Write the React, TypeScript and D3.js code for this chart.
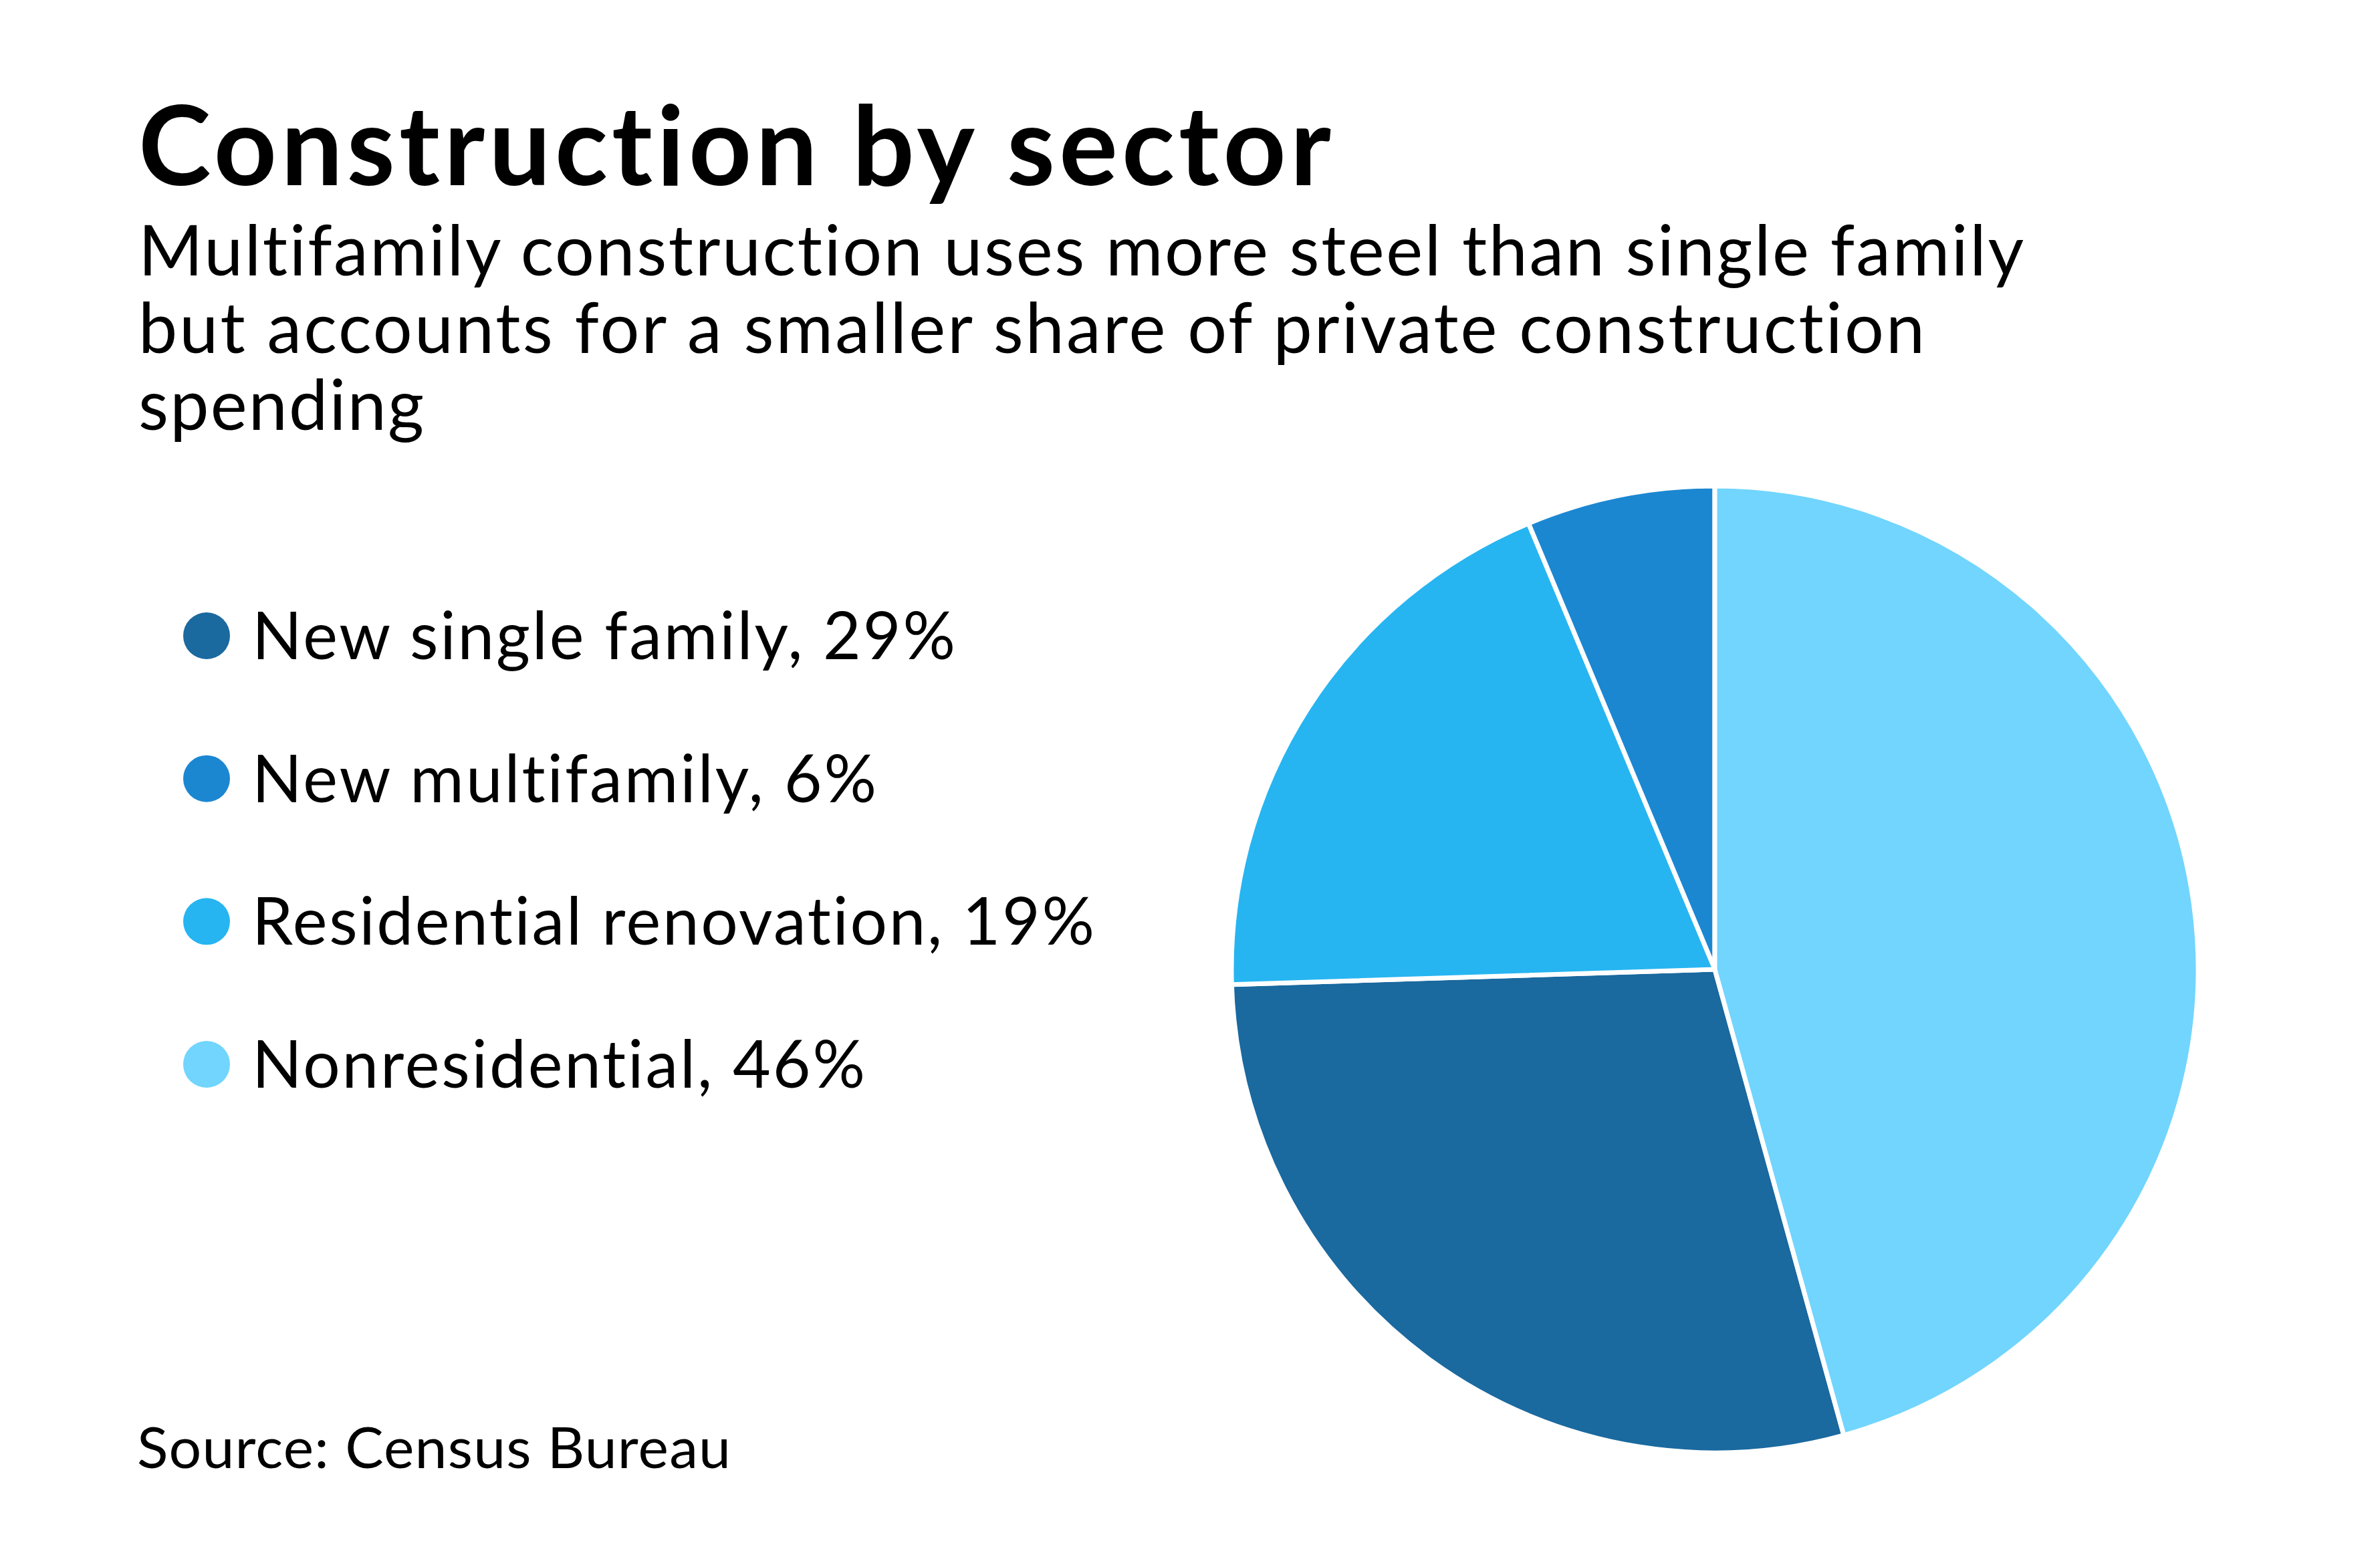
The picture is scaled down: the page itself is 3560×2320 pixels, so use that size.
import React from 'react';
import * as d3 from 'd3';

const sectors = ['New single family', 'New multifamily', 'Residential renovation', 'Nonresidential'];
const shares = [28.8, 6.3, 19.2, 45.7];
const sectorColors = ['#1a699f', '#1c87d1', '#26b5f1', '#71d5fe'];
// order the slices run clockwise from 12 o'clock
const pieOrder = ['Nonresidential', 'New single family', 'Residential renovation', 'New multifamily'];

const title = 'Construction by sector';
const subtitleLines = [
  'Multifamily construction uses more steel than single family',
  'but accounts for a smaller share of private construction',
  'spending',
];
const source = 'Source: Census Bureau';

const W = 3560;
const H = 2320;
const FONT = 'Lato, "Open Sans", sans-serif';

// measured line widths in the reference, used to match the letter spacing
const subtitleWidths = [2820, 2672, 427];
const legendWidths = [1052, 934, 1260, 917];

const App: React.FC = () => {
  const cx = 2565;
  const cy = 1450;
  const r = 723;

  const pie = d3.pie<number>()
    .sort((a, b) => pieOrder.indexOf(sectors[a]) - pieOrder.indexOf(sectors[b]))
    .value(i => shares[i]);
  const arcs = pie(d3.range(sectors.length));
  const arc = d3.arc<d3.PieArcDatum<number>>().innerRadius(0).outerRadius(r);

  const legendY = d3.scalePoint<string>()
    .domain(sectors)
    .range([951, 1592]);

  return (
    <svg width={W} height={H} style={{ position: 'absolute', left: 0, top: 0, background: '#fff', fontVariantLigatures: 'none' }}
      fontFamily={FONT}>
      <rect width={W} height={H} fill="#fff" />
      <text x={207} y={277} fontSize={164} fontWeight={700} fill="#000"
        textLength={1784} lengthAdjust="spacing">{title}</text>
      {subtitleLines.map((t, i) => (
        <text key={i} x={207} y={412 + i * 115.5} fontSize={104} fill="#000"
          textLength={subtitleWidths[i]} lengthAdjust="spacing">{t}</text>
      ))}

      <g>
        {sectors.map((s, i) => (
          <g key={s} transform={`translate(0,${legendY(s)})`}>
            <circle cx={309} cy={0} r={35} fill={sectorColors[i]} />
            <text x={377} y={35} fontSize={98} fill="#000"
              textLength={legendWidths[i]} lengthAdjust="spacing">
              {`${s}, ${Math.round(shares[i])}%`}
            </text>
          </g>
        ))}
      </g>

      <text x={205} y={2196} fontSize={86} fill="#000"
        textLength={888} lengthAdjust="spacing">{source}</text>

      <g transform={`translate(${cx},${cy})`}>
        {arcs.map(a => (
          <path key={a.data} d={arc(a) || ''} fill={sectorColors[a.data]}
            stroke="#fff" strokeWidth={7} strokeLinejoin="round" />
        ))}
      </g>
    </svg>
  );
};

export default App;
